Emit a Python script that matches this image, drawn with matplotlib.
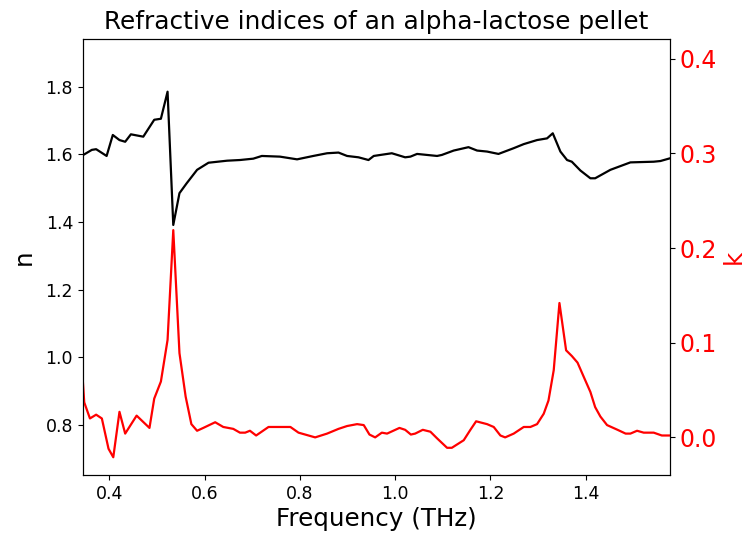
import numpy as np
import matplotlib
matplotlib.use("Agg")
import matplotlib.pyplot as plt

freq_n = [0.345, 0.363, 0.372, 0.394, 0.407, 0.421, 0.433, 0.445, 0.471, 0.494,
          0.508, 0.522, 0.534, 0.547, 0.562, 0.584, 0.608, 0.647, 0.674, 0.702,
          0.720, 0.758, 0.794, 0.828, 0.857, 0.881, 0.899, 0.923, 0.944, 0.955,
          0.969, 0.993, 1.021, 1.032, 1.046, 1.088, 1.098, 1.123, 1.154, 1.172,
          1.193, 1.217, 1.249, 1.270, 1.298, 1.319, 1.331, 1.347, 1.361, 1.371,
          1.389, 1.410, 1.420, 1.452, 1.494, 1.543, 1.557, 1.577]
n_vals = [1.598, 1.613, 1.615, 1.595, 1.657, 1.642, 1.637, 1.659, 1.652, 1.702,
          1.705, 1.785, 1.391, 1.485, 1.514, 1.554, 1.575, 1.581, 1.583, 1.587,
          1.595, 1.593, 1.585, 1.595, 1.603, 1.605, 1.595, 1.591, 1.583, 1.595,
          1.598, 1.603, 1.591, 1.593, 1.601, 1.595, 1.598, 1.611, 1.621, 1.611,
          1.608, 1.601, 1.618, 1.630, 1.642, 1.647, 1.662, 1.608, 1.583, 1.578,
          1.552, 1.529, 1.529, 1.554, 1.576, 1.578, 1.580, 1.588]

# extinction coefficient (k)
freq_k = [0.344, 0.347, 0.359, 0.372, 0.384, 0.398, 0.408, 0.421, 0.433, 0.457,
          0.484, 0.494, 0.508, 0.522, 0.534, 0.547, 0.560, 0.572, 0.584, 0.597,
          0.622, 0.639, 0.660, 0.674, 0.685, 0.695, 0.708, 0.734, 0.758, 0.780,
          0.797, 0.832, 0.857, 0.881, 0.899, 0.920, 0.934, 0.946, 0.958, 0.972,
          0.983, 1.009, 1.021, 1.033, 1.042, 1.058, 1.074, 1.088, 1.109, 1.119,
          1.144, 1.158, 1.170, 1.193, 1.207, 1.221, 1.231, 1.249, 1.270, 1.284,
          1.298, 1.312, 1.322, 1.333, 1.345, 1.359, 1.371, 1.383, 1.396, 1.410,
          1.420, 1.431, 1.445, 1.467, 1.484, 1.494, 1.508, 1.522, 1.543, 1.560,
          1.577]
k_vals = [0.060, 0.037, 0.020, 0.024, 0.020, -0.012, -0.021, 0.027, 0.004, 0.023,
          0.010, 0.041, 0.059, 0.103, 0.219, 0.089, 0.043, 0.014, 0.007, 0.010,
          0.016, 0.011, 0.009, 0.005, 0.005, 0.007, 0.002, 0.011, 0.011, 0.011,
          0.005, 0.000, 0.004, 0.009, 0.012, 0.014, 0.013, 0.003, 0.000, 0.005,
          0.004, 0.010, 0.008, 0.003, 0.004, 0.008, 0.006, -0.001, -0.011, -0.011,
          -0.003, 0.008, 0.017, 0.014, 0.011, 0.002, 0.000, 0.004, 0.011, 0.011,
          0.014, 0.025, 0.039, 0.071, 0.142, 0.092, 0.086, 0.079, 0.064, 0.048,
          0.032, 0.022, 0.013, 0.008, 0.004, 0.004, 0.007, 0.005, 0.005, 0.002,
          0.002]

fig = plt.figure(figsize=(7.46, 5.37), dpi=100)
ax = fig.add_axes([0.111, 0.115, 0.787, 0.8125])
ax.plot(freq_n, n_vals, color="black", lw=1.6)
ax.set_xlim(0.344, 1.577)
ax.set_ylim(0.651, 1.941)
ax.set_xticks([0.4, 0.6, 0.8, 1.0, 1.2, 1.4])
ax.set_yticks([0.8, 1.0, 1.2, 1.4, 1.6, 1.8])
ax.tick_params(labelsize=12.5)
ax.set_xlabel("Frequency (THz)", fontsize=17.7, labelpad=3)
ax.set_ylabel("n", fontsize=17.7, labelpad=7)
ax.set_title("Refractive indices of an alpha-lactose pellet", fontsize=17.8, pad=7)

ax2 = ax.twinx()
ax2.plot(freq_k, k_vals, color="red", lw=1.6)
ax2.set_ylim(-0.040, 0.421)
ax2.set_yticks([0.0, 0.1, 0.2, 0.3, 0.4])
ax2.tick_params(axis="y", labelcolor="red", labelsize=17)
# kept a touch inside the canvas so the label is not clipped
ax2.set_ylabel("k", color="red", fontsize=17.7, labelpad=3.5)

fig.savefig("out.png", dpi=100)
